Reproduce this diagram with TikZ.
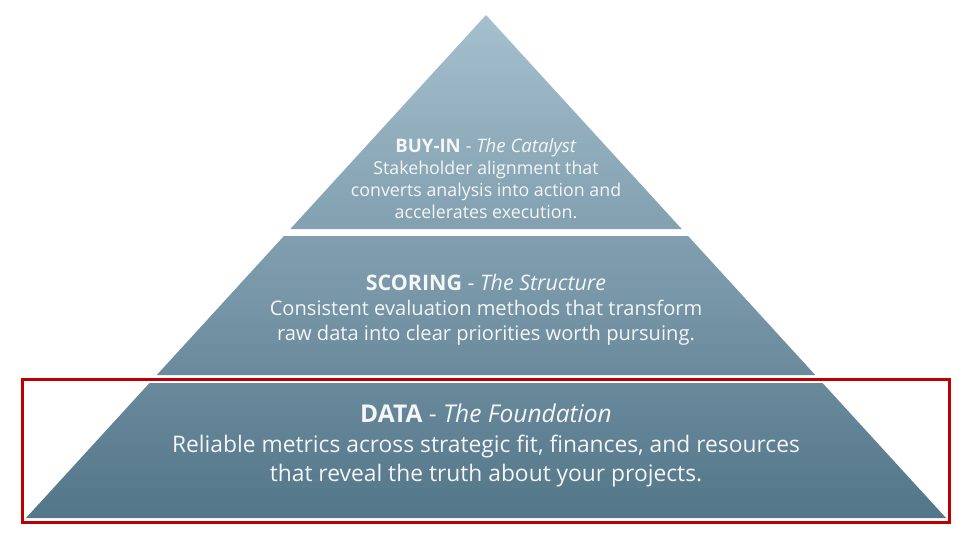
\documentclass[tikz,border=0pt]{standalone}
\usepackage{fontspec}
\setmainfont{Open Sans}
\usetikzlibrary{backgrounds}

\definecolor{tiertop}{HTML}{A5BFCD}
\definecolor{tierbot}{HTML}{537689}
\definecolor{boxred}{HTML}{C00000}
\definecolor{tiertext}{HTML}{F4F6F7}

\tikzset{
  tierlabel/.style={text=tiertext, align=center, inner sep=0pt},
  focusbox/.style={draw=boxred, line width=3pt}
}
\newcommand{\tiertitle}[3]{{\fontsize{#3}{#3}\selectfont\textbf{#1} - \textit{#2}}}

\begin{document}
\begin{tikzpicture}[x=1pt,y=-1pt]
  \useasboundingbox (0,0) rectangle (973,533);
  %% pyramid: one gradient, clipped to the three tiers
  \begin{scope}
    \clip (486,15) -- (681.7,229) -- (290.3,229) -- cycle
          (688.1,236) -- (815.2,375) -- (156.8,375) -- (283.9,236) -- cycle
          (822.5,383) -- (946,518) -- (26,518) -- (149.5,383) -- cycle;
    \shade[top color=tiertop, bottom color=tierbot] (20,15) rectangle (953,518);
  \end{scope}
  \node[tierlabel, font=\fontsize{17.8}{22}\selectfont] (buyin) at (486,179)
    {\tiertitle{BUY-IN}{The Catalyst}{18.6}\\
     Stakeholder alignment that\\
     converts analysis into action and\\
     accelerates execution.};
  \node[tierlabel, font=\fontsize{20.1}{25}\selectfont] (scoring) at (486,310)
    {\tiertitle{SCORING}{The Structure}{21.4}\\
     Consistent evaluation methods that transform\\
     raw data into clear priorities worth pursuing.};
  \node[tierlabel, font=\fontsize{22.8}{29.5}\selectfont] (data) at (486,445.5)
    {\tiertitle{DATA}{The Foundation}{24.5}\\
     Reliable metrics across strategic fit, finances, and resources\\
     that reveal the truth about your projects.};
  %% highlight round the foundation tier
  \draw[focusbox] (22.5,379) rectangle (949,522.5);
\end{tikzpicture}
\end{document}
